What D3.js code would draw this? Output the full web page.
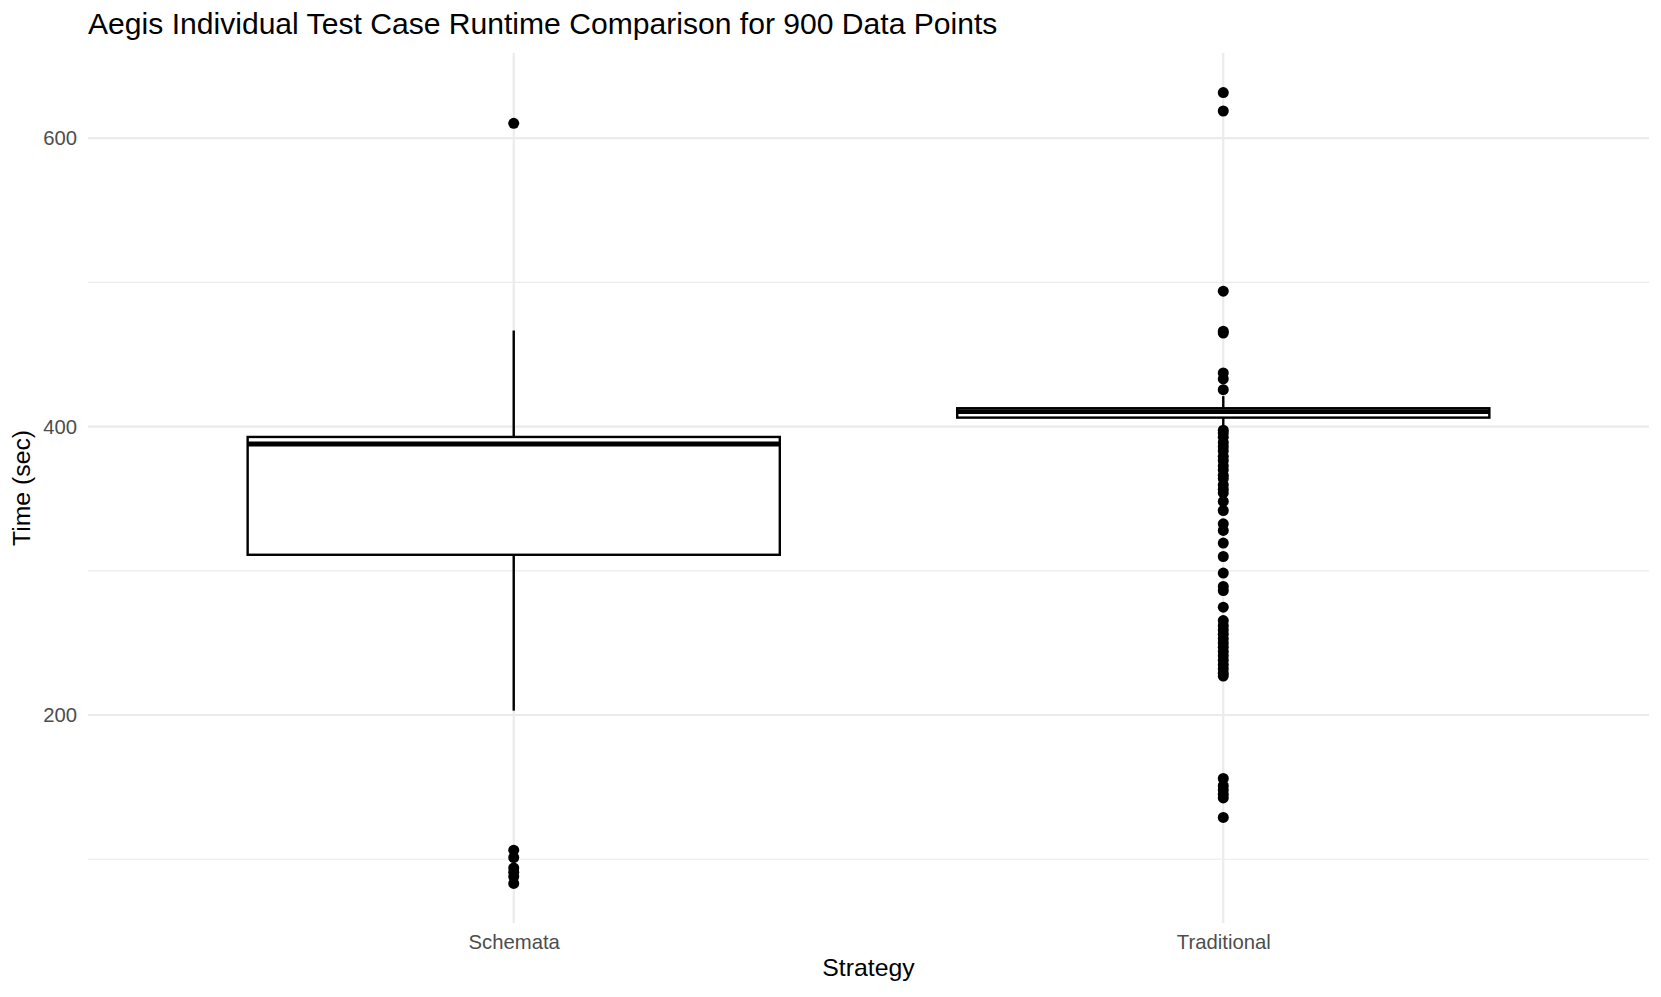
<!DOCTYPE html>
<html>
<head>
<meta charset="utf-8">
<script src="https://cdn.jsdelivr.net/npm/d3@7"></script>
<style>
  body { margin: 0; background: #fff; }
  text { font-family: "Liberation Sans", Arial, sans-serif; }
</style>
</head>
<body>
<div id="chart"></div>
<script>
// Canvas
const width = 1661,
  height = 997,
  panelLeft = 88,
  panelRight = 1649,
  panelTop = 53,
  panelBottom = 923

// Data
const categories = ['Schemata', 'Traditional']
const whiskerLow = [203, 401]
const q1 = [311.1, 406.2]
const median = [387.9, 410.3]
const q3 = [392.8, 412.7]
const whiskerHigh = [466.6, 421.1]
const schemataOutliers = [610.3, 106.3, 101.2, 94, 91, 88, 83.2]
const traditionalOutliers = [
  631.6, 618.8, 493.9, 466.1, 464.8, 437.2, 433.0, 425.6,
  397.5, 395.6, 392.6, 389, 386, 383.1, 379.4, 376.5, 372.8, 369.9, 366.2, 364, 359.6, 356.6, 354,
  348.1, 341.8, 332.6, 328, 319.2, 309.9, 298.4, 289.1, 286.3, 274.8,
  265.5, 262, 259, 256, 253, 250, 247, 244, 241, 238, 235, 232, 229, 227,
  156, 151, 148, 145, 142.5, 129
]
const majorTicks = [200, 400, 600]
const minorTicks = [100, 300, 500]

const outliers = [schemataOutliers, traditionalOutliers]

let svg = d3.select('#chart')
  .append('svg')
  .attr('width', width)
  .attr('height', height)

// y range with 5% padding like ggplot
const allValues = d3.merge([whiskerLow, whiskerHigh, schemataOutliers, traditionalOutliers])
const yMin = d3.min(allValues), yMax = d3.max(allValues)
const pad = (yMax - yMin) * 0.05

const yScale = d3.scaleLinear()
  .domain([yMin - pad, yMax + pad])
  .range([panelBottom, panelTop])

const xScale = d3.scalePoint()
  .domain(categories)
  .range([panelLeft, panelRight])
  .padding(0.6)

const boxWidth = xScale.step() * 0.75

// grid
svg.append('g')
  .selectAll('line')
  .data(minorTicks)
  .enter()
  .append('line')
  .attr('x1', panelLeft).attr('x2', panelRight)
  .attr('y1', d => yScale(d)).attr('y2', d => yScale(d))
  .attr('stroke', '#ebebeb')
  .attr('stroke-width', 1.2)

svg.append('g')
  .selectAll('line')
  .data(majorTicks)
  .enter()
  .append('line')
  .attr('x1', panelLeft).attr('x2', panelRight)
  .attr('y1', d => yScale(d)).attr('y2', d => yScale(d))
  .attr('stroke', '#ebebeb')
  .attr('stroke-width', 2.2)

svg.append('g')
  .selectAll('line')
  .data(categories)
  .enter()
  .append('line')
  .attr('x1', d => xScale(d)).attr('x2', d => xScale(d))
  .attr('y1', panelTop).attr('y2', panelBottom)
  .attr('stroke', '#ebebeb')
  .attr('stroke-width', 2.2)

// boxes
let boxes = svg.append('g')
  .selectAll('g')
  .data(categories)
  .enter()
  .append('g')

boxes.append('line')
  .attr('x1', d => xScale(d)).attr('x2', d => xScale(d))
  .attr('y1', (d, i) => yScale(q3[i])).attr('y2', (d, i) => yScale(whiskerHigh[i]))
  .attr('stroke', '#000').attr('stroke-width', 2.4)

boxes.append('line')
  .attr('x1', d => xScale(d)).attr('x2', d => xScale(d))
  .attr('y1', (d, i) => yScale(q1[i])).attr('y2', (d, i) => yScale(whiskerLow[i]))
  .attr('stroke', '#000').attr('stroke-width', 2.4)

boxes.append('rect')
  .attr('x', d => xScale(d) - boxWidth / 2)
  .attr('width', boxWidth)
  .attr('y', (d, i) => yScale(q3[i]))
  .attr('height', (d, i) => yScale(q1[i]) - yScale(q3[i]))
  .attr('fill', '#fff')
  .attr('stroke', '#000').attr('stroke-width', 2.4)

boxes.append('line')
  .attr('x1', d => xScale(d) - boxWidth / 2).attr('x2', d => xScale(d) + boxWidth / 2)
  .attr('y1', (d, i) => yScale(median[i])).attr('y2', (d, i) => yScale(median[i]))
  .attr('stroke', '#000').attr('stroke-width', 4.8)

// outlier points
boxes.selectAll('circle')
  .data((d, i) => outliers[i].map(v => ({ cat: d, v: v })))
  .enter()
  .append('circle')
  .attr('cx', d => xScale(d.cat))
  .attr('cy', d => yScale(d.v))
  .attr('r', 5.5)
  .attr('fill', '#000')

// axes, no lines, just labels
let axisY = d3.axisLeft(yScale).tickValues(majorTicks).tickSize(0).tickPadding(11)
let axisX = d3.axisBottom(xScale).tickSize(0).tickPadding(12)

let gy = svg.append('g')
  .attr('transform', `translate(${panelLeft}, 0)`)
  .call(axisY)
let gx = svg.append('g')
  .attr('transform', `translate(0, ${panelBottom})`)
  .call(axisX)

svg.selectAll('.domain').remove()
svg.selectAll('.tick text')
  .attr('font-family', '"Liberation Sans", Arial, sans-serif')
  .attr('font-size', 20.3)
  .attr('fill', '#4d4d4d')

// titles
svg.append('text')
  .attr('x', panelLeft)
  .attr('y', 34)
  .attr('font-size', 30.1)
  .attr('fill', '#000')
  .text('Aegis Individual Test Case Runtime Comparison for 900 Data Points')

svg.append('text')
  .attr('x', (panelLeft + panelRight) / 2)
  .attr('y', 976)
  .attr('text-anchor', 'middle')
  .attr('font-size', 24.8)
  .text('Strategy')

svg.append('text')
  .attr('transform', `translate(29.5, ${(panelTop + panelBottom) / 2}) rotate(-90)`)
  .attr('text-anchor', 'middle')
  .attr('font-size', 24.8)
  .text('Time (sec)')
</script>
</body>
</html>
